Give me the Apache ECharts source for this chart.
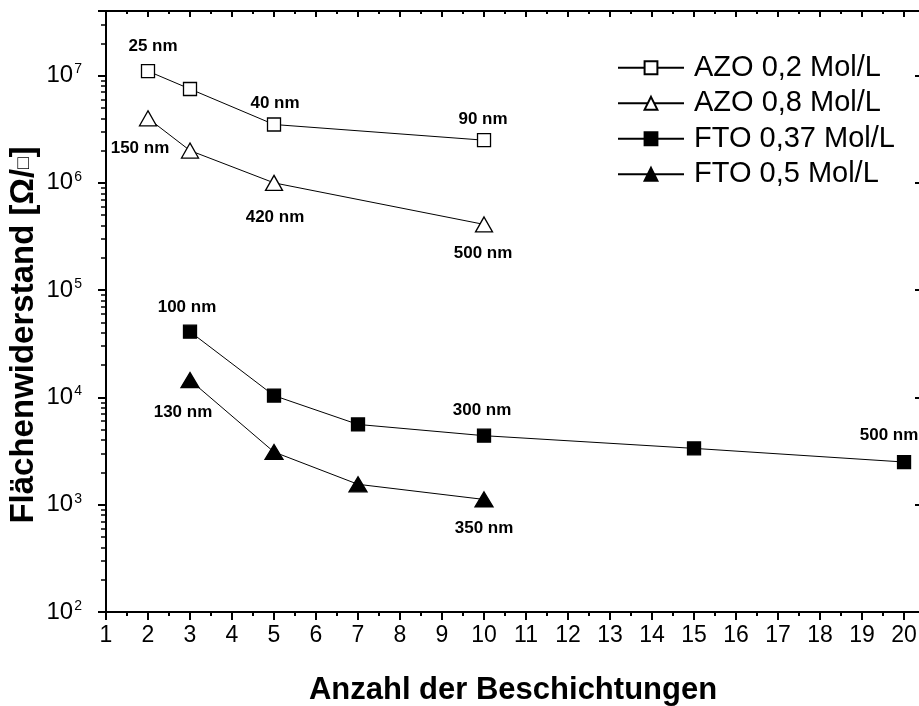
<!DOCTYPE html>
<html>
<head>
<meta charset="utf-8">
<script src="https://cdn.jsdelivr.net/npm/echarts@6/dist/echarts.min.js"></script>
<style>html,body{margin:0;padding:0;background:#fff}#c{width:919px;height:706px}</style>
</head>
<body>
<div id="c"></div>
<script>
// ---- data ----
var seriesNames = ['AZO 0,2 Mol/L', 'AZO 0,8 Mol/L', 'FTO 0,37 Mol/L', 'FTO 0,5 Mol/L'];
var azo02X = [2, 3, 5, 10];
var azo02Y = [1.1e7, 7.5e6, 3.5e6, 2.5e6];
var azo02Labels = ['25 nm', '', '40 nm', '90 nm'];
var azo08X = [2, 3, 5, 10];
var azo08Y = [4.0e6, 2.0e6, 1.0e6, 4.1e5];
var azo08Labels = ['150 nm', '', '420 nm', '500 nm'];
var fto037X = [3, 5, 7, 10, 15, 20];
var fto037Y = [4.1e4, 1.04e4, 5.6e3, 4.4e3, 3.35e3, 2.5e3];
var fto037Labels = ['100 nm', '', '', '300 nm', '', '500 nm'];
var fto05X = [3, 5, 7, 10];
var fto05Y = [1.45e4, 3.1e3, 1.55e3, 1.12e3];
var fto05Labels = ['130 nm', '', '', '350 nm'];
var xTickLabels = [1,2,3,4,5,6,7,8,9,10,11,12,13,14,15,16,17,18,19,20];
var yMin = 1e2, yMax = 4e7;
var xMin = 1, xMax = 20.38;

// ---- layout (not data) ----
var labelOffsets = {
  '25 nm': [5, -25], '40 nm': [1, -21], '90 nm': [-1, -21],
  '150 nm': [-8, 30], '420 nm': [1, 34], '500 nm A': [-1, 29],
  '100 nm': [-3, -24], '300 nm': [-2, -25], '500 nm F': [-15, -27],
  '130 nm': [-7, 32], '350 nm': [0, 29]
};
var ARIAL = "'Liberation Sans', Arial, sans-serif";
var NARROW = "'Liberation Sans Narrow', 'Arial Narrow', 'Liberation Sans', Arial, sans-serif";

function data2(xs, ys, labels, tag) {
  return xs.map(function (x, i) {
    var item = { value: [x, ys[i]] };
    var t = labels[i];
    if (t) {
      var off = labelOffsets[t + ' ' + tag] || labelOffsets[t];
      item.label = {
        show: true, formatter: t, position: 'inside', offset: off,
        fontSize: 17, fontWeight: 'bold', color: '#000', fontFamily: ARIAL
      };
    }
    return item;
  });
}

var minorExp = [];
for (var d = 2; d <= 7; d++) {
  for (var k = 2; k <= 9; k++) {
    var v = k * Math.pow(10, d);
    if (v < yMax) minorExp.push(Math.log10(v));
  }
}

var lineStyle = { color: '#000', width: 1 };
function mkSeries(name, data, symbol, size, filled) {
  return {
    name: name, type: 'line', xAxisIndex: 0, yAxisIndex: 0,
    data: data, symbol: symbol, symbolSize: size,
    lineStyle: lineStyle,
    itemStyle: { color: filled ? '#000' : '#fff', borderColor: '#000', borderWidth: 1.3 },
    emphasis: { disabled: true }, silent: true, z: 3
  };
}

var chart = echarts.init(document.getElementById('c'), null, { renderer: 'canvas' });
function axLine() { return { show: true, onZero: false, lineStyle: { color: '#000', width: 2 } }; }
function tick(inside, len, w) { return { show: true, inside: inside, length: len, lineStyle: { color: '#000', width: w } }; }
chart.setOption({
  animation: false,
  backgroundColor: '#fff',
  grid: [
    { left: 106, top: 11, right: -1, bottom: 94, outerBoundsMode: 'none', containLabel: false },
    { left: 106, top: 11, right: -1, bottom: 94, outerBoundsMode: 'none', containLabel: false }
  ],
  legend: {
    orient: 'vertical', left: 617, top: 53, padding: 0,
    itemWidth: 66, itemHeight: 16, itemGap: 6,
    textStyle: { fontSize: 29, fontFamily: ARIAL, color: '#000', lineHeight: 29.5, padding: [0, 0, 0, 5] },
    data: seriesNames
  },
  xAxis: [
    { gridIndex: 0, type: 'value', position: 'bottom', min: xMin, max: xMax, interval: 1,
      axisLine: axLine(),
      axisTick: tick(false, 8, 2),
      axisLabel: { show: true, margin: 12, fontSize: 23, fontFamily: NARROW, color: '#000',
        formatter: function (v) { return xTickLabels.indexOf(v) >= 0 ? String(v) : ''; } },
      splitLine: { show: false },
      name: 'Anzahl der Beschichtungen', nameLocation: 'middle', nameGap: 63,
      nameTextStyle: { fontSize: 31, fontWeight: 'bold', fontFamily: ARIAL, color: '#000' }
    },
    { gridIndex: 0, type: 'value', position: 'top', min: xMin, max: xMax, interval: 1,
      axisLine: axLine(),
      axisTick: tick(true, 6, 2),
      axisLabel: { show: false }, splitLine: { show: false }
    },
    { gridIndex: 1, type: 'value', position: 'bottom', min: xMin, max: xMax, interval: 0.5,
      axisLine: { show: false, onZero: false },
      axisTick: tick(false, 4, 2),
      axisLabel: { show: false }, splitLine: { show: false }
    },
    { gridIndex: 1, type: 'value', position: 'top', min: xMin, max: xMax, interval: 0.5,
      axisLine: { show: false, onZero: false },
      axisTick: tick(true, 3, 2),
      axisLabel: { show: false }, splitLine: { show: false }
    }
  ],
  yAxis: [
    { gridIndex: 0, type: 'log', logBase: 10, position: 'left', min: yMin, max: yMax, interval: 1,
      axisLine: axLine(),
      axisTick: tick(false, 8, 2),
      axisLabel: { show: true, margin: 24, color: '#000', fontSize: 24, fontFamily: NARROW,
        formatter: function (v) {
          var e = Math.round(Math.log10(v));
          if (Math.abs(Math.log10(v) - e) > 1e-6) return '';
          return '10{sup|' + e + '}';
        },
        rich: { sup: { fontSize: 14, fontFamily: NARROW, color: '#000', padding: [0, 0, 12, 1] } }
      },
      splitLine: { show: false }
    },
    { gridIndex: 0, type: 'log', logBase: 10, position: 'right', min: yMin, max: yMax, interval: 1,
      axisLine: axLine(),
      axisTick: tick(true, 5, 2),
      axisLabel: { show: false }, splitLine: { show: false }
    },
    { gridIndex: 1, type: 'value', position: 'left', min: 2, max: Math.log10(yMax),
      axisLine: { show: false, onZero: false },
      axisTick: { show: true, inside: false, length: 5, customValues: minorExp,
        lineStyle: { color: '#000', width: 1.5 } },
      axisLabel: { show: false }, splitLine: { show: false }
    }
  ],
  graphic: [{
    type: 'text', x: 24, y: 335, rotation: Math.PI / 2,
    style: {
      text: 'Flächenwiderstand [Ω/{s|□}]',
      font: "bold 33px 'Liberation Sans', Arial, sans-serif",
      fill: '#000', align: 'center', verticalAlign: 'middle',
      rich: { s: { fontSize: 19, fontWeight: 'bold', fill: '#000', fontFamily: ARIAL } }
    }
  }],
  series: [
    mkSeries(seriesNames[0], data2(azo02X, azo02Y, azo02Labels, 'A'), 'rect', 13, false),
    mkSeries(seriesNames[1], data2(azo08X, azo08Y, azo08Labels, 'A'), 'triangle', [17, 15], false),
    mkSeries(seriesNames[2], data2(fto037X, fto037Y, fto037Labels, 'F'), 'rect', 13, true),
    mkSeries(seriesNames[3], data2(fto05X, fto05Y, fto05Labels, 'F'), 'triangle', [18, 15], true)
  ]
});
</script>
</body>
</html>
